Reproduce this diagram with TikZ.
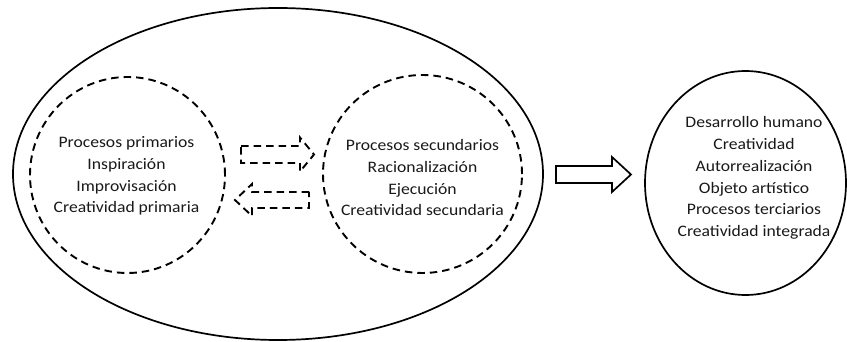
\documentclass[tikz,border=0pt]{standalone}
\usepackage{fontspec}
\setmainfont[FakeStretch=1.1]{Carlito}
\usetikzlibrary{shapes.geometric}
\begin{document}
\begin{tikzpicture}[x=1pt,y=-1pt,
  solidline/.style={draw=black, line width=1.7pt},
  dashline/.style={draw=black, line width=1.9pt, dash pattern=on 7.5pt off 5pt},
  oval/.style={ellipse, inner sep=0pt},
  txt/.style={align=center, font=\fontsize{16}{21.8}\selectfont, inner sep=0pt, text=black!90}]
\useasboundingbox (0,0) rectangle (847,342);
\node[oval, solidline, minimum width=530pt, minimum height=332pt] (outer) at (278,174) {};
\node[oval, dashline, minimum width=195pt, minimum height=196pt] (prim) at (127.5,175) {};
\node[oval, dashline, minimum width=199pt, minimum height=198pt] (sec) at (422.5,174) {};
\node[oval, solidline, minimum width=201pt, minimum height=224pt] (integ) at (745.5,183) {};
\node[txt] (primtxt) at (126.5,176) {Procesos primarios\\Inspiración\\Improvisación\\Creatividad primaria};
\node[txt] (sectxt) at (422.5,177.8) {Procesos secundarios\\Racionalización\\Ejecución\\Creatividad secundaria};
\node[txt] (integtxt) at (754,178) {Desarrollo humano\\Creatividad\\Autorrealización\\Objeto artístico\\Procesos terciarios\\Creatividad integrada};
% dashed block arrows between the inner processes
\draw[dashline, line join=miter] (241,146) -- (300,146) -- (300,137.5) -- (314,154.5) -- (300,171.5) -- (300,163) -- (241,163) -- cycle;
\draw[dashline, line join=miter] (309,192) -- (252,192) -- (252,184) -- (235,200) -- (252,216) -- (252,208) -- (309,208) -- cycle;
% solid block arrow to the integrated creativity
\draw[solidline, line join=miter] (556,166) -- (612,166) -- (612,157) -- (631,174.5) -- (612,192) -- (612,183) -- (556,183) -- cycle;
\end{tikzpicture}
\end{document}
